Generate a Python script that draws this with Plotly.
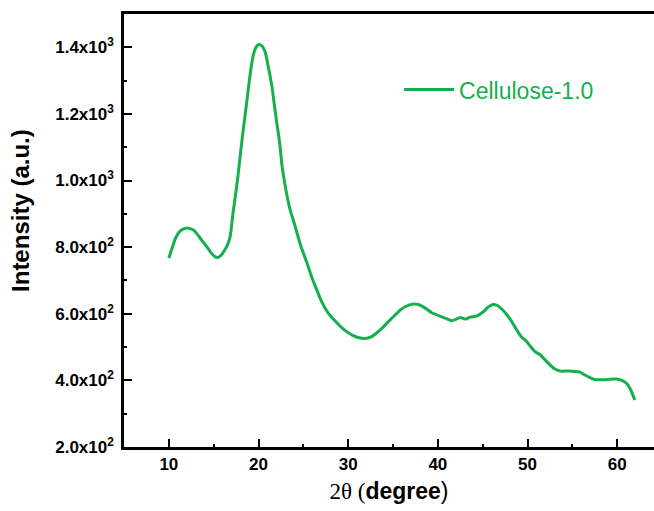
import plotly.graph_objects as go

# XRD pattern of Cellulose-1.0 (2θ in degrees, intensity in a.u.)
two_theta = [10.0, 10.4, 10.73, 11.29, 11.8, 12.2, 12.7, 13.1, 13.52, 14.1, 14.63,
             15.1, 15.45, 15.8, 16.2, 16.56, 16.86, 17.12, 17.4, 17.67, 17.9, 18.16,
             18.45, 18.72, 19.0, 19.3, 19.6, 19.9, 20.15, 20.45, 20.75, 21.1, 21.5,
             21.68, 22.0, 22.35, 22.62, 23.0, 23.5, 24.1, 24.7, 25.5, 26.0, 26.51,
             26.96, 27.7, 28.55, 29.5, 30.5, 31.34, 31.9, 32.5, 33.2, 33.93, 34.8,
             35.42, 35.79, 36.35, 37.27, 37.9, 38.6, 39.32, 40.3, 41.0, 41.55, 42.0,
             42.47, 42.9, 43.22, 43.6, 44.33, 45.07, 45.6, 46.18, 46.7, 47.2, 47.67,
             48.2, 48.8, 49.34, 49.9, 50.3, 50.8, 51.4, 52.3, 53.0, 53.6, 54.5,
             55.3, 55.83, 56.4, 56.9, 57.4, 57.87, 58.9, 59.5, 59.92, 60.5, 61.04,
             61.5, 61.96]
intensity = [767, 800, 826, 849, 856, 857, 852, 842, 826, 806, 786,
             772, 769, 775, 790, 808, 835, 895, 950, 1005, 1060, 1122,
             1185, 1242, 1305, 1360, 1393, 1406, 1408, 1402, 1385, 1340, 1282,
             1245, 1180, 1115, 1045, 980, 915, 861, 805, 745, 705, 671,
             641, 605, 578, 553, 535, 527, 526, 530, 543, 561, 585,
             601, 611, 621, 629, 627, 617, 603, 592, 585, 579, 583,
             589, 585, 585, 590, 593, 606, 620, 628, 624, 612, 598,
             578, 551, 530, 517, 503, 487, 477, 452, 435, 428, 428,
             427, 425, 416, 409, 403, 402, 403, 404, 404, 400, 391,
             372, 341]

series_name = "Cellulose-1.0"
x_major = [10, 20, 30, 40, 50, 60]
y_major = [200, 400, 600, 800, 1000, 1200, 1400]
y_labels = ["2.0x10<sup>2</sup>", "4.0x10<sup>2</sup>", "6.0x10<sup>2</sup>",
            "8.0x10<sup>2</sup>", "1.0x10<sup>3</sup>", "1.2x10<sup>3</sup>",
            "1.4x10<sup>3</sup>"]

green = "#13b04e"
sans = "Liberation Sans, Arial, sans-serif"
serif = "Liberation Serif, Times New Roman, serif"

fig = go.Figure()
fig.add_trace(go.Scatter(
    x=two_theta, y=intensity, mode="lines", name=series_name,
    line=dict(color=green, width=3, shape="spline", smoothing=0.5),
))

fig.update_layout(
    width=654, height=511,
    margin=dict(l=124, r=0, t=14, b=64),
    plot_bgcolor="white", paper_bgcolor="white",
    showlegend=True,
    legend=dict(x=0.519, y=0.875, xanchor="left", yanchor="top",
                font=dict(family=sans, size=23, color=green),
                bgcolor="rgba(0,0,0,0)", itemwidth=50),
    font=dict(family=sans, color="black"),
)

fig.update_xaxes(
    range=[5, 64.1], showgrid=False, zeroline=False,
    showline=True, linecolor="black", linewidth=2.5, mirror=True,
    tickmode="array", tickvals=x_major,
    ticks="inside", ticklen=8, tickwidth=2, tickcolor="black",
    tickfont=dict(family=sans, size=17, color="black", weight="bold"),
    minor=dict(tickmode="linear", tick0=5, dtick=10, ticks="inside",
               ticklen=3, tickwidth=2, tickcolor="black"),
    title=dict(
        text=f"<span style='font-family:{serif}'>2θ (</span><b>degree</b>)",
        font=dict(family=sans, size=23, color="black"), standoff=10),
)

fig.update_yaxes(
    range=[200, 1500], showgrid=False, zeroline=False,
    showline=True, linecolor="black", linewidth=2.5, mirror=False,
    tickmode="array", tickvals=y_major, ticktext=y_labels,
    ticks="inside", ticklen=8, tickwidth=2, tickcolor="black",
    ticklabelstandoff=4,
    tickfont=dict(family=sans, size=17, color="black", weight="bold"),
    minor=dict(tickmode="linear", tick0=300, dtick=200, ticks="inside",
               ticklen=3, tickwidth=2, tickcolor="black"),
)

# y-axis title, placed to the left of the tick labels
fig.add_annotation(
    text="<b>Intensity (a.u.)</b>", textangle=-90,
    xref="paper", yref="paper", x=-0.1966, y=0.547,
    xanchor="center", yanchor="middle", showarrow=False,
    font=dict(family=sans, size=24, color="black"),
)

fig.write_html("out.html")
